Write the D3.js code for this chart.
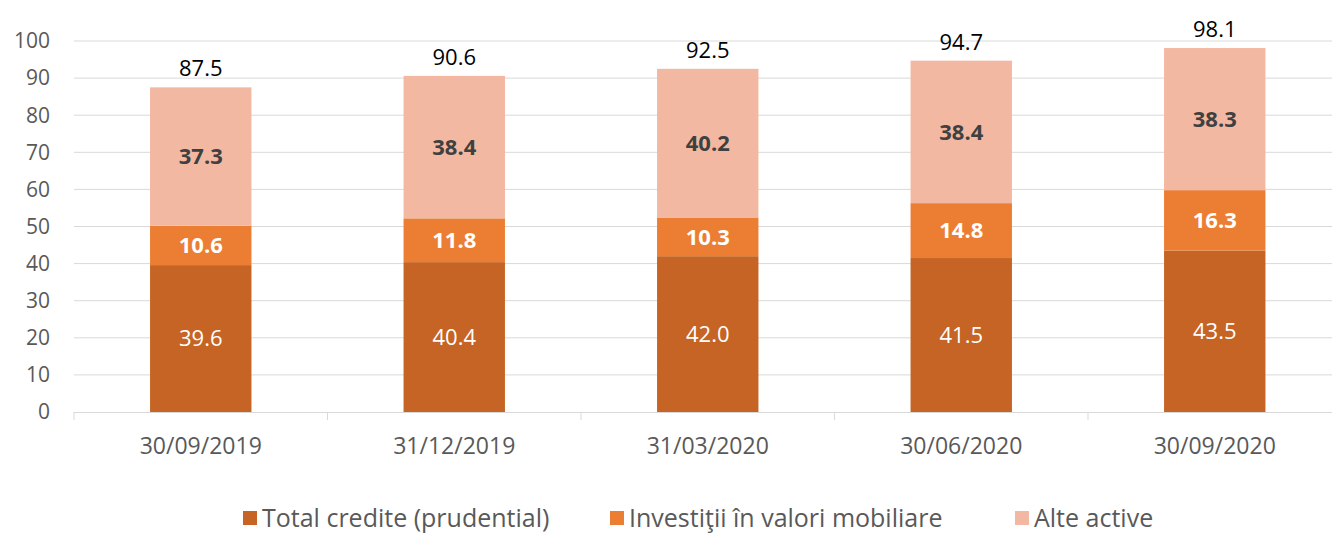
<!DOCTYPE html>
<html>
<head>
<meta charset="utf-8">
<script src="https://cdn.jsdelivr.net/npm/d3@7"></script>
<style>
  body { margin: 0; background: #fff; }
  svg text { font-family: "Open Sans", "Liberation Sans", sans-serif; }
</style>
</head>
<body>
<div id="chart"></div>
<script>
// data
var dates = ["30/09/2019", "31/12/2019", "31/03/2020", "30/06/2020", "30/09/2020"];
var credite = [39.6, 40.4, 42.0, 41.5, 43.5];
var investitii = [10.6, 11.8, 10.3, 14.8, 16.3];
var alte = [37.3, 38.4, 40.2, 38.4, 38.3];
var totals = [87.5, 90.6, 92.5, 94.7, 98.1];
var seriesNames = ["Total credite (prudential)", "Investiţii în valori mobiliare", "Alte active"];
var yTicks = [0, 10, 20, 30, 40, 50, 60, 70, 80, 90, 100];

var width = 1332, height = 533;
var colors = ["#C56424", "#EC7E33", "#F3B8A2"];
var labelColors = ["#ffffff", "#ffffff", "#404040"];
var labelWeights = ["normal", "bold", "bold"];

var rows = dates.map((d, i) => ({date: d, s0: credite[i], s1: investitii[i], s2: alte[i], total: totals[i]}));
var stack = d3.stack().keys(["s0", "s1", "s2"]);
var series = stack(rows);

var x = d3.scaleBand()
    .domain(dates)
    .range([74, 1341.5])
    .paddingInner(0.6)
    .paddingOuter(0.3);

var y = d3.scaleLinear()
    .domain([0, 100])
    .range([412, 41]);

var svg = d3.select("#chart").append("svg")
    .attr("width", width)
    .attr("height", height);

// gridlines
svg.append("g")
    .selectAll("line")
    .data(yTicks.slice(1))
    .enter().append("line")
    .attr("x1", 74).attr("x2", width)
    .attr("y1", d => y(d)).attr("y2", d => y(d))
    .style("stroke", "#d9d9d9")
    .style("stroke-width", 1);

// y tick labels
svg.append("g")
    .selectAll("text")
    .data(yTicks)
    .enter().append("text")
    .attr("x", 50)
    .attr("y", d => y(d))
    .attr("dy", "0.35em")
    .attr("text-anchor", "end")
    .style("font-size", "21px")
    .style("fill", "#595959")
    .text(d => d);

// bars
var groups = svg.append("g").selectAll("g")
    .data(series)
    .enter().append("g")
    .style("fill", (d, i) => colors[i]);

groups.selectAll("rect")
    .data(d => d)
    .enter().append("rect")
    .attr("x", d => x(d.data.date))
    .attr("width", x.bandwidth())
    .attr("y", d => y(d[1]))
    .attr("height", d => y(d[0]) - y(d[1]));

// segment labels
series.forEach((s, si) => {
    svg.append("g").selectAll("text")
        .data(s)
        .enter().append("text")
        .attr("x", d => x(d.data.date) + x.bandwidth() / 2)
        .attr("y", d => y((d[0] + d[1]) / 2))
        .attr("dy", "0.35em")
        .attr("text-anchor", "middle")
        .style("font-size", "22px")
        .style("font-weight", labelWeights[si])
        .style("fill", labelColors[si])
        .text(d => d.data[s.key].toFixed(1));
});

// totals
svg.append("g").selectAll("text")
    .data(rows)
    .enter().append("text")
    .attr("x", d => x(d.date) + x.bandwidth() / 2)
    .attr("y", d => y(d.total) - 11)
    .attr("text-anchor", "middle")
    .style("font-size", "22px")
    .style("fill", "#000")
    .text(d => d.total.toFixed(1));

// x axis line + ticks
var axis = svg.append("g");
axis.append("line")
    .attr("x1", 74).attr("x2", width)
    .attr("y1", 412.5).attr("y2", 412.5)
    .style("stroke", "#d9d9d9");
var step = x.step();
axis.selectAll(".tk")
    .data(d3.range(dates.length))
    .enter().append("line")
    .attr("class", "tk")
    .attr("x1", i => x(dates[i]) - step * 0.3)
    .attr("x2", i => x(dates[i]) - step * 0.3)
    .attr("y1", 412).attr("y2", 420)
    .style("stroke", "#d9d9d9");
axis.selectAll("text")
    .data(dates)
    .enter().append("text")
    .attr("x", d => x(d) + x.bandwidth() / 2)
    .attr("y", 446)
    .attr("dy", "0.35em")
    .attr("text-anchor", "middle")
    .style("font-size", "23px")
    .style("fill", "#595959")
    .text(d => d);

// legend
var legendX = [243, 610, 1015];
var legend = svg.append("g").selectAll("g")
    .data(seriesNames)
    .enter().append("g")
    .attr("transform", (d, i) => `translate(${legendX[i]}, 518)`);
legend.append("rect")
    .attr("x", 0).attr("y", -7)
    .attr("width", 14).attr("height", 14)
    .style("fill", (d, i) => colors[i]);
legend.append("text")
    .attr("x", 19)
    .attr("dy", "0.35em")
    .style("font-size", "25px")
    .style("fill", "#595959")
    .text(d => d);
</script>
</body>
</html>
